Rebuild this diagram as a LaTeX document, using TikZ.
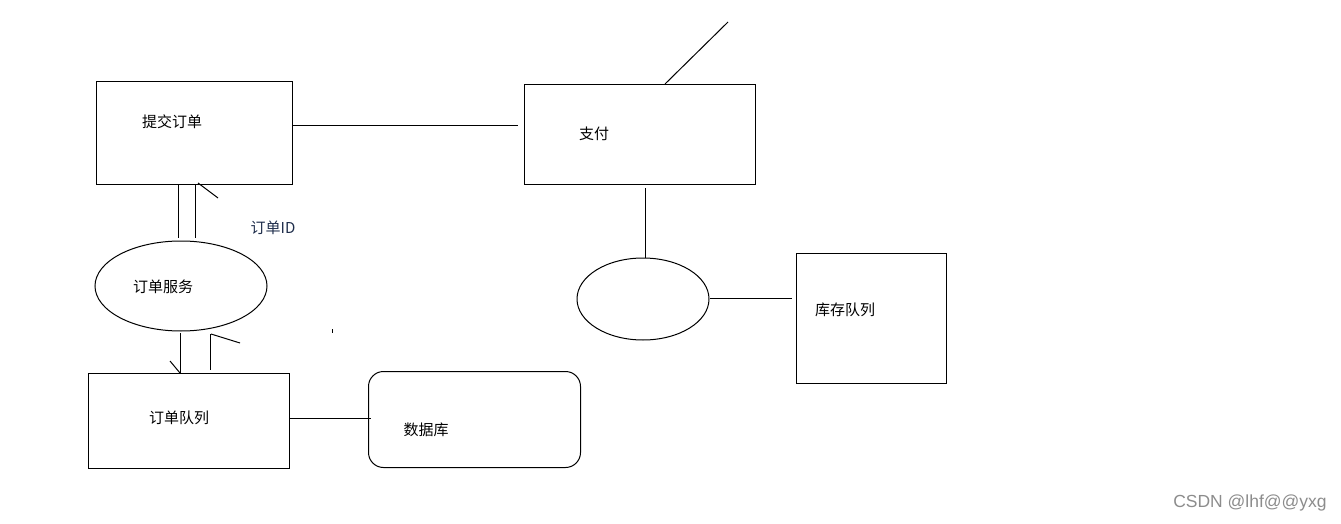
\documentclass[tikz,border=0pt]{standalone}
\usepackage{fontspec}
\newfontfamily\cjk{Noto Sans CJK SC}
\newfontfamily\wm{Liberation Sans}
\usetikzlibrary{shapes.geometric}
\definecolor{idblue}{RGB}{30,45,75}
\begin{document}
\begin{tikzpicture}[x=1pt,y=-1pt,
  ln/.style={line width=1pt,black},
  boxr/.style={draw,line width=1pt,inner sep=0pt,anchor=north west},
  lbl/.style={font=\cjk\fontsize{15}{17}\selectfont,inner sep=0pt},
  ell/.style={draw,line width=1pt,ellipse,inner sep=0pt}]
\useasboundingbox (0,0) rectangle (1341,524);
% boxes
\node[boxr,minimum width=196pt,minimum height=103pt] (submit) at (96,81) {};
\node[boxr,minimum width=231pt,minimum height=100pt] (pay) at (524,84) {};
\node[boxr,minimum width=150pt,minimum height=130pt] (stockq) at (796,253) {};
\node[boxr,minimum width=201pt,minimum height=95pt] (orderq) at (88,373) {};
\node[boxr,rounded corners=15pt,minimum width=212pt,minimum height=96pt] (db) at (368,371) {};
\node[ell,minimum width=172pt,minimum height=90pt] (svc) at (181,286) {};
\node[ell,minimum width=132pt,minimum height=82pt] (e2) at (643,299) {};
% labels
\node[lbl] (t1) at (172,122) {提交订单};
\node[lbl] (t2) at (594,134) {支付};
\node[lbl] (t3) at (845,310) {库存队列};
\node[lbl] (t4) at (163,287) {订单服务};
\node[lbl] (t5) at (179,418) {订单队列};
\node[lbl] (t6) at (426,430) {数据库};
\node[lbl,text=idblue] (t7) at (273,228) {订单ID};
\node[font=\wm\fontsize{17.5}{19}\selectfont,text=black!45,inner sep=0pt] (wmk) at (1250,503) {CSDN @lhf@@yxg};
% coordinates
\coordinate (a1) at (292,126); \coordinate (a2) at (518,126);
\coordinate (b1) at (665,84); \coordinate (b2) at (728,22);
\coordinate (c1) at (645,188); \coordinate (c2) at (645,258);
\coordinate (d1) at (710,298); \coordinate (d2) at (792,298);
\coordinate (e1) at (178,184); \coordinate (e2a) at (178,238);
\coordinate (f1) at (195,184); \coordinate (f2) at (195,238);
\coordinate (g1) at (198,183); \coordinate (g2) at (218,198);
\coordinate (h1) at (180,333); \coordinate (h2) at (180,373);
\coordinate (h3) at (170,361);
\coordinate (i1) at (210,334); \coordinate (i2) at (210,370);
\coordinate (i3) at (211,334); \coordinate (i4) at (240,343);
\coordinate (j1) at (290,418); \coordinate (j2) at (371,418);
% connectors
\draw[ln] (a1) -- (a2);
\draw[ln] (b1) -- (b2);
\draw[ln] (c1) -- (c2);
\draw[ln] (d1) -- (d2);
\draw[ln] (e1) -- (e2a);
\draw[ln] (f1) -- (f2);
\draw[ln] (g1) -- (g2);
\draw[ln] (h1) -- (h2);
\draw[ln] (h3) -- (h2);
\draw[ln] (i1) -- (i2);
\draw[ln] (i3) -- (i4);
\draw[ln] (j1) -- (j2);
\fill (332,329) rectangle (333,333);
\end{tikzpicture}
\end{document}
